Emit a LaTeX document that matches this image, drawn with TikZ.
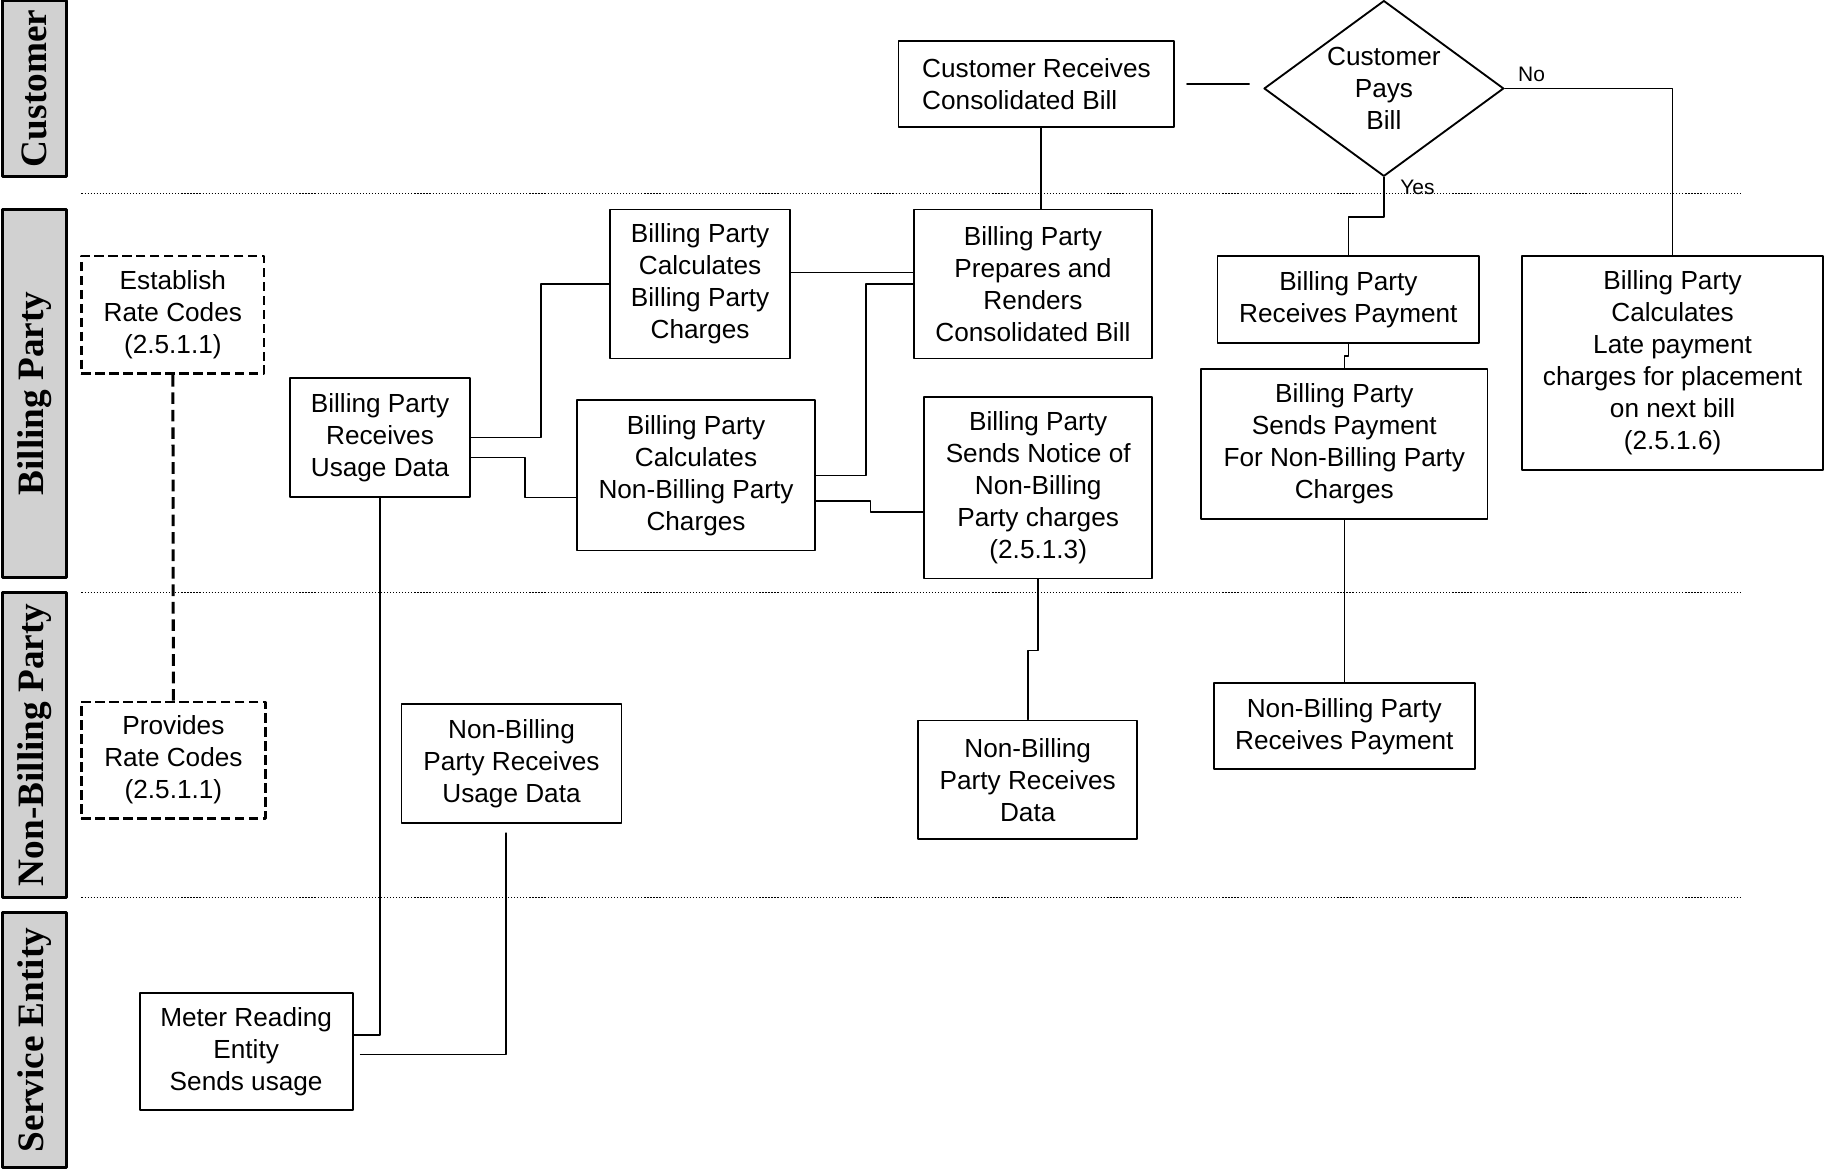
\documentclass[tikz,border=0pt]{standalone}
\usepackage{fontspec}
\setmainfont{Liberation Sans}
\newfontfamily\lanefont{Liberation Serif}
\usetikzlibrary{shapes.geometric}
\definecolor{lanegray}{gray}{0.82}

\begin{document}
\begin{tikzpicture}[line cap=round,line join=round,x=1pt,y=-1pt,
  proc/.style={draw,line width=1.6pt,align=center,inner sep=0pt,font=\fontsize{22.5}{27.5}\selectfont},
  ratebox/.style={proc,line width=2.2pt,dash pattern=on 8pt off 4pt,line cap=butt},
  lane/.style={draw,line width=2.4pt,fill=lanegray,rotate=90,minimum height=55pt,inner sep=0pt,font=\lanefont\bfseries\fontsize{32}{36}\selectfont},
  sep/.style={line width=1.1pt,line cap=butt,dash pattern=on 1pt off 1.6pt},
  conn/.style={line width=1.4pt},
  lbl/.style={font=\fontsize{18}{20}\selectfont,inner sep=2pt}]
\useasboundingbox (0,0) rectangle (1568,1004);
% lanes
\node[lane,minimum width=151pt] (lcust) at (29.5,76) {Customer};
\node[lane,minimum width=316pt] (lbill) at (29.5,338) {Billing Party};
\node[lane,minimum width=262pt] (lnonbill) at (29.5,640) {Non-Billing Party};
\node[lane,minimum width=219pt] (lservice) at (29.5,893.5) {Service Entity};
\draw[sep] (70,166)--(1497,166);
\draw[sep] (70,509)--(1497,509);
\draw[sep] (70,771)--(1497,771);
% customer
\node[proc,align=left,minimum width=237pt,minimum height=74pt] (crcb) at (890.5,72) {Customer Receives\\Consolidated Bill};
\node[proc,diamond,aspect=1.36,minimum width=206pt,minimum height=151pt] (pay) at (1189,76) {Customer\\Pays\\Bill};
% billing party
\node[ratebox,minimum width=157pt,minimum height=101pt] (establish) at (148.5,270.5) {Establish\\Rate Codes\\(2.5.1.1)};
\node[proc,minimum width=155pt,minimum height=102pt] (rcvusage) at (326.5,376) {Billing Party\\Receives\\Usage Data};
\node[proc,minimum width=155pt,minimum height=128pt] (calcbp) at (601.5,244) {Billing Party\\Calculates\\Billing Party\\Charges};
\node[proc,minimum width=204pt,minimum height=129pt] (calcnbp) at (598,408.5) {Billing Party\\Calculates\\Non-Billing Party\\Charges};
\node[proc,minimum width=205pt,minimum height=128pt] (prep) at (887.5,244) {Billing Party\\Prepares and\\Renders\\Consolidated Bill};
\node[proc,minimum width=196pt,minimum height=156pt] (notice) at (892,419) {Billing Party\\Sends Notice of\\Non-Billing\\Party charges\\(2.5.1.3)};
\node[proc,minimum width=225pt,minimum height=75pt] (rcvpay) at (1158.5,257.5) {Billing Party\\Receives Payment};
\node[proc,minimum width=246pt,minimum height=129pt] (sendpay) at (1155,381.5) {Billing Party\\Sends Payment\\For Non-Billing Party\\Charges};
\node[proc,minimum width=258pt,minimum height=184pt] (late) at (1437,312) {Billing Party\\Calculates\\Late payment\\charges for placement\\on next bill\\(2.5.1.6)};
% non-billing party
\node[ratebox,minimum width=158pt,minimum height=100pt] (provides) at (149,653) {Provides\\Rate Codes\\(2.5.1.1)};
\node[proc,minimum width=189pt,minimum height=102pt] (nbpusage) at (439.5,656) {Non-Billing\\Party Receives\\Usage Data};
\node[proc,minimum width=188pt,minimum height=102pt] (nbpdata) at (883,670) {Non-Billing\\Party Receives\\Data};
\node[proc,minimum width=224pt,minimum height=74pt] (nbppay) at (1155,624) {Non-Billing Party\\Receives Payment};
% service entity
\node[proc,minimum width=183pt,minimum height=101pt] (meter) at (211.5,903.5) {Meter Reading\\Entity\\Sends usage};
% connectors
\draw[line width=2.6pt,line cap=butt,dash pattern=on 10pt off 5pt] (establish)--(provides);
\draw[conn,shorten <=10pt,shorten >=12pt] (crcb.east)--(crcb.east -| pay.west);
\draw[conn] ([xshift=4pt]crcb.south)--([xshift=4pt]crcb.south |- prep.north);
\draw[conn] (pay.east) -| node[lbl,pos=0.08,above,yshift=3pt]{No} (late.north);
\draw[conn] (pay.south) -- ++(0,34) -| (rcvpay.north);
\node[lbl,anchor=north west] at ([xshift=12pt]pay.south) {Yes};
\draw[conn] (rcvpay.south) -- ++(0,10) -| (sendpay.north);
\draw[conn] (sendpay)--(nbppay);
\draw[conn] (rcvusage.east) -- ++(60,0) |- (calcbp.west);
\draw[conn] ([yshift=-17pt]rcvusage.east) -- ++(46,0) |- ([yshift=-19pt]calcnbp.west);
\draw[conn] ([yshift=10pt]calcbp.east)--([yshift=10pt]prep.west);
\draw[conn] (calcnbp.east) -- ++(43,0) |- (prep.west);
\draw[conn] ([yshift=-22pt]calcnbp.east) -- ++(47,0) |- ([yshift=-21pt]notice.west);
\draw[conn] (notice.south) -- ++(0,61) -| (nbpdata.north);
\draw[conn] (rcvusage.south) |- ([yshift=14.5pt]meter.east);
\draw[conn,shorten <=8pt,shorten >=6pt] ([xshift=-4.5pt]nbpusage.south) |- ([yshift=-2.5pt]meter.east);
\end{tikzpicture}
\end{document}
